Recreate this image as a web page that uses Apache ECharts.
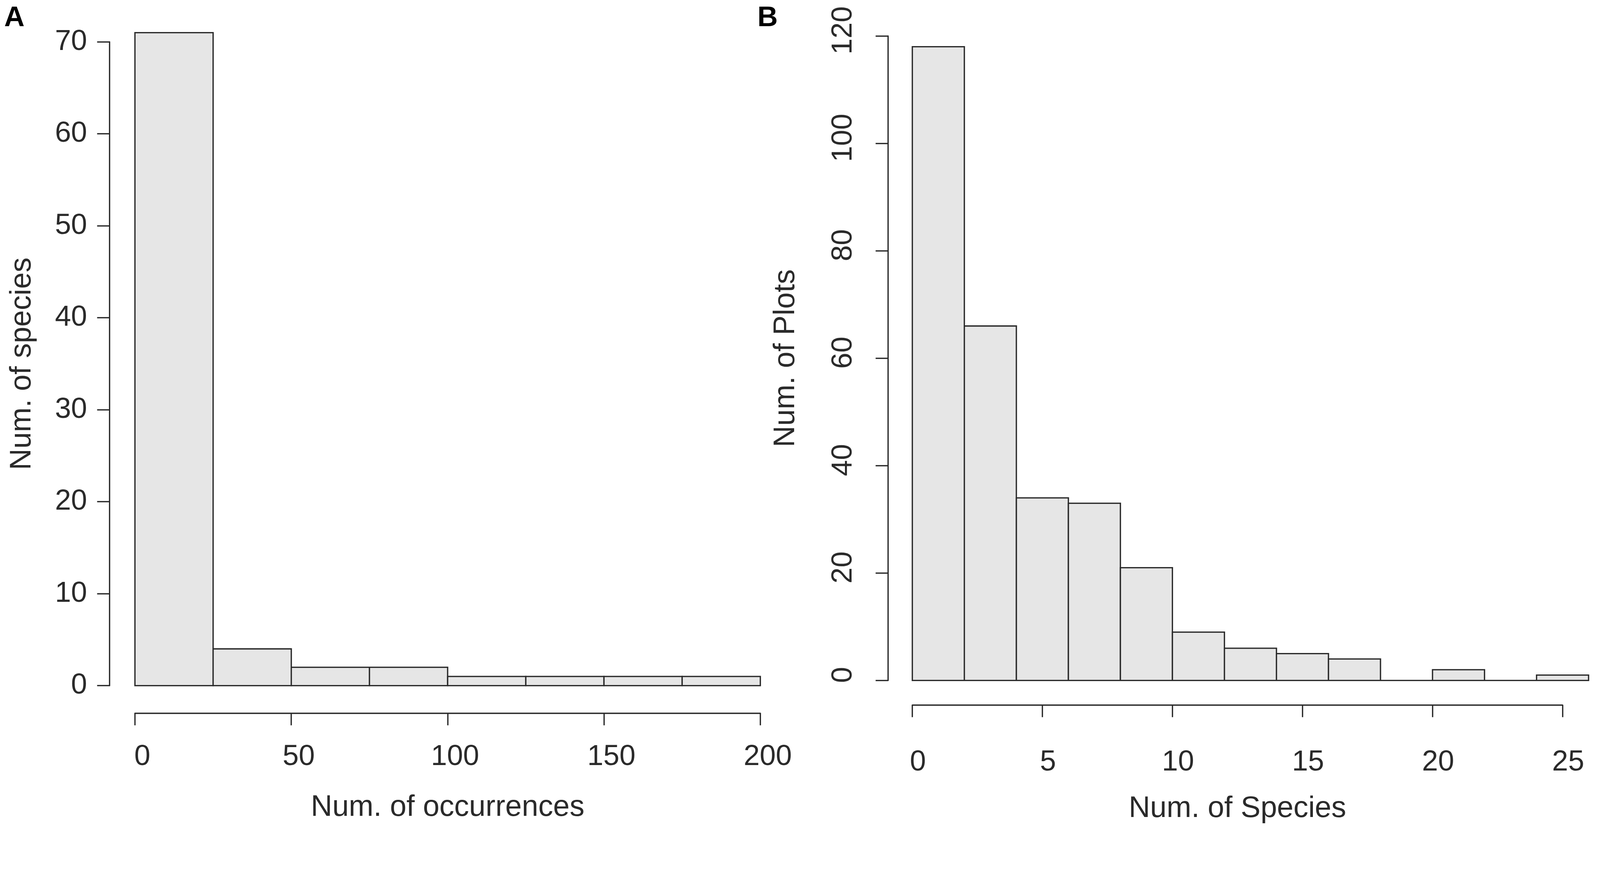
<!DOCTYPE html>
<html>
<head>
<meta charset="utf-8">
<title>Histograms</title>
<script src="https://cdn.jsdelivr.net/npm/echarts@6/dist/echarts.min.js"></script>
<style>
  html, body { margin: 0; padding: 0; background: #fff; overflow: hidden; }
  #chart { width: 100vw; height: 100vh; }
</style>
</head>
<body>
<div id="chart"></div>
<script>
// panel A: species by number of occurrences (bins of 25)
var occurrenceBreaks = [0, 25, 50, 75, 100, 125, 150, 175, 200]
var speciesCounts = [71, 4, 2, 2, 1, 1, 1, 1]
var occurrenceTicks = [0, 50, 100, 150, 200]
var speciesTicks = [0, 10, 20, 30, 40, 50, 60, 70]

// panel B: plots by number of species (bins of 2)
var speciesBreaks = [0, 2, 4, 6, 8, 10, 12, 14, 16, 18, 20, 22, 24, 26]
var plotCounts = [118, 66, 34, 33, 21, 9, 6, 5, 4, 0, 2, 0, 1]
var speciesNumTicks = [0, 5, 10, 15, 20, 25]
var plotTicks = [0, 20, 40, 60, 80, 100, 120]

let dom = document.getElementById('chart')
let myChart = echarts.init(dom)
// layout was measured on a 4316 px wide picture, scale to the real width
let s = myChart.getWidth() / 4316

function px(v) { return v * s }

function toBins(breaks, counts) {
	let out = []
	for (let i = 0; i < counts.length; i++) {
		out.push([breaks[i], breaks[i + 1], counts[i]])
	}
	return out
}

function histRect(params, api) {
	let topLeft = api.coord([api.value(0), api.value(2)])
	let bottomRight = api.coord([api.value(1), 0])
	return {
		type: 'rect',
		shape: {
			x: topLeft[0],
			y: topLeft[1],
			width: bottomRight[0] - topLeft[0],
			height: bottomRight[1] - topLeft[1]
		},
		style: { fill: '#e6e6e6', stroke: '#2a2a2a', lineWidth: px(3.5) }
	}
}

let font = 'Liberation Sans, Arial, sans-serif'
let ink = '#2a2a2a'
let lineStyle = { color: '#2a2a2a', width: px(3.5) }

function valueAxis(ticks, extra) {
	let ax = {
		type: 'value',
		min: ticks[0],
		max: ticks[ticks.length - 1],
		interval: ticks[1] - ticks[0],
		axisLine: { show: true, onZero: false, lineStyle: lineStyle },
		axisTick: { show: true, length: px(33), lineStyle: lineStyle },
		splitLine: { show: false },
		nameLocation: 'middle',
		nameTextStyle: { fontFamily: font, fontSize: px(80), color: ink },
		axisLabel: { fontFamily: font, fontSize: px(78), color: ink, hideOverlap: false }
	}
	for (let k in extra) {
		if (k === 'axisLabel') Object.assign(ax.axisLabel, extra[k])
		else ax[k] = extra[k]
	}
	return ax
}

option = {
	backgroundColor: '#fff',
	animation: false,
	title: [
		{ text: 'A', left: px(6), top: px(6), textStyle: { fontFamily: font, fontSize: px(76), fontWeight: 'bold', color: '#000' } },
		{ text: 'B', left: px(2038), top: px(6), textStyle: { fontFamily: font, fontSize: px(76), fontWeight: 'bold', color: '#000' } }
	],
	grid: [
		{ left: px(364), top: px(113), width: px(1687), height: px(1737) },
		{ left: px(2461), top: px(97), width: px(1754), height: px(1739) }
	],
	xAxis: [
		valueAxis(occurrenceTicks, {
			gridIndex: 0, offset: px(74), name: 'Num. of occurrences', nameGap: px(215),
			axisLabel: { margin: px(80), padding: [0, 0, 0, px(40)] }
		}),
		valueAxis(speciesNumTicks, {
			gridIndex: 1, offset: px(66), name: 'Num. of Species', nameGap: px(240),
			axisLabel: { margin: px(117), padding: [0, 0, 0, px(30)] }
		})
	],
	yAxis: [
		valueAxis(speciesTicks, {
			gridIndex: 0, offset: px(69), name: 'Num. of species', nameGap: px(195),
			axisLabel: { margin: px(60), padding: [px(40), 0, 0, 0] }
		}),
		valueAxis(plotTicks, {
			gridIndex: 1, offset: px(66), name: 'Num. of Plots', nameGap: px(235),
			axisLabel: { margin: px(80), rotate: 90, padding: [0, 0, 0, px(30)] }
		})
	],
	series: [
		{
			type: 'custom',
			xAxisIndex: 0,
			yAxisIndex: 0,
			renderItem: histRect,
			encode: { x: [0, 1], y: 2 },
			data: toBins(occurrenceBreaks, speciesCounts)
		},
		{
			type: 'custom',
			xAxisIndex: 1,
			yAxisIndex: 1,
			renderItem: histRect,
			encode: { x: [0, 1], y: 2 },
			data: toBins(speciesBreaks, plotCounts)
		}
	]
}
myChart.setOption(option)
</script>
</body>
</html>
